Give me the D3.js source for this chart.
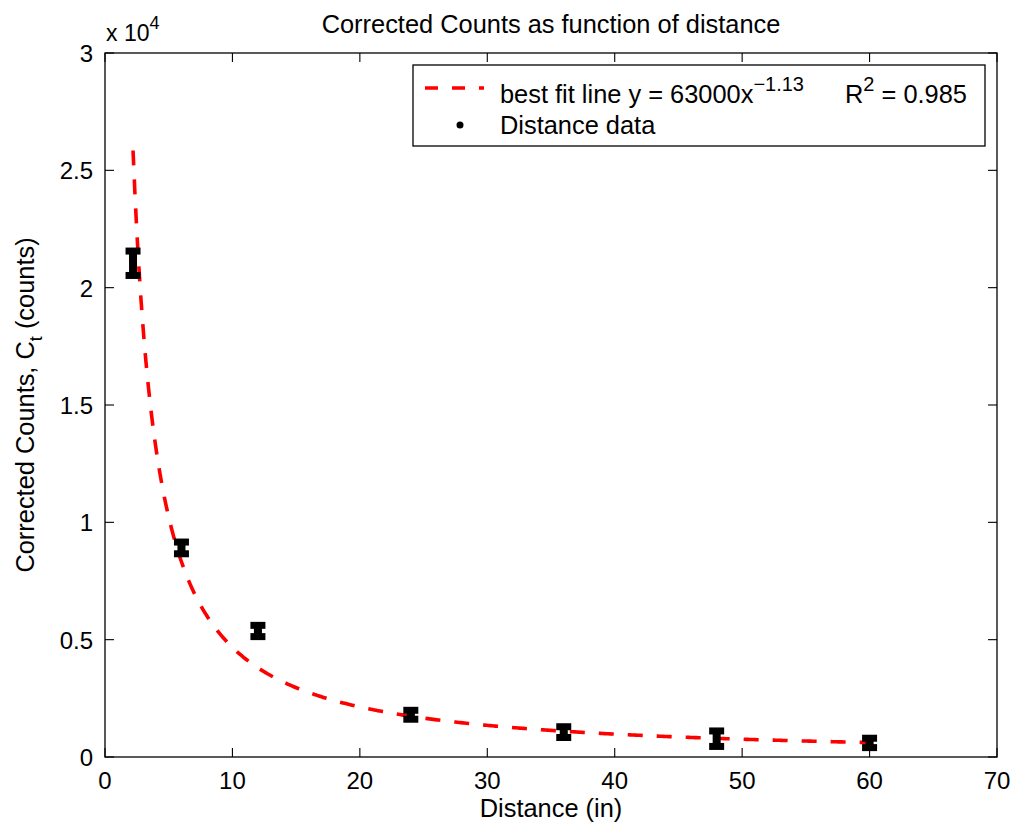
<!DOCTYPE html>
<html>
<head>
<meta charset="utf-8">
<script src="https://cdn.jsdelivr.net/npm/d3@7"></script>
<style>
  body { margin: 0; background: #fff; }
  text { font-family: "Liberation Sans", Arial, Helvetica, sans-serif; fill: #000; }
</style>
</head>
<body>
<svg id="chart" width="1016" height="826"></svg>
<script>
// Measured source-to-detector distances (in) and corrected counts
const distance = [2.2, 6, 12, 24, 36, 48, 60];
const counts = [21040, 8910, 5370, 1800, 1060, 780, 600];
const countErr = [520, 250, 240, 190, 230, 330, 200];

// Power-law fit y = A x^B
const fitA = 63000;
const fitB = -1.13;

const xTicks = [0, 10, 20, 30, 40, 50, 60, 70];
const yTicks = [0, 5000, 10000, 15000, 20000, 25000, 30000];
const yTickLabels = ["0", "0.5", "1", "1.5", "2", "2.5", "3"];

const svg = d3.select("#chart");
const plotLeft = 105, plotRight = 997, plotTop = 53, plotBottom = 757;
const labelSize = 25.4, tickSize = 24, supSize = 18;

const x = d3.scaleLinear().domain([0, 70]).range([plotLeft, plotRight]);
const y = d3.scaleLinear().domain([0, 30000]).range([plotBottom, plotTop]);

// Axes box
svg.append("rect")
  .attr("x", plotLeft).attr("y", plotTop)
  .attr("width", plotRight - plotLeft).attr("height", plotBottom - plotTop)
  .attr("fill", "#fff").attr("stroke", "#000").attr("stroke-width", 1.3);

const tickLen = 9;
// Inward ticks on all four sides
const g = svg.append("g").attr("stroke", "#000").attr("stroke-width", 1.1);
xTicks.forEach(t => {
  g.append("line").attr("x1", x(t)).attr("x2", x(t)).attr("y1", plotBottom).attr("y2", plotBottom - tickLen);
  g.append("line").attr("x1", x(t)).attr("x2", x(t)).attr("y1", plotTop).attr("y2", plotTop + tickLen);
});
yTicks.forEach(t => {
  g.append("line").attr("x1", plotLeft).attr("x2", plotLeft + tickLen).attr("y1", y(t)).attr("y2", y(t));
  g.append("line").attr("x1", plotRight).attr("x2", plotRight - tickLen).attr("y1", y(t)).attr("y2", y(t));
});

// Tick labels
svg.append("g").selectAll("text").data(xTicks).join("text")
  .attr("x", d => x(d)).attr("y", plotBottom + 32)
  .attr("text-anchor", "middle").attr("font-size", tickSize)
  .text(d => d);
svg.append("g").selectAll("text").data(yTicks).join("text")
  .attr("x", plotLeft - 12).attr("y", d => y(d) + 9)
  .attr("text-anchor", "end").attr("font-size", tickSize)
  .text((d, i) => yTickLabels[i]);

// Exponent label
const expo = svg.append("text").attr("x", plotLeft + 1).attr("y", plotTop - 12).attr("font-size", 23);
expo.append("tspan").text("x 10");
expo.append("tspan").attr("dy", -12).attr("font-size", supSize).text("4");

// Title and axis labels
svg.append("text").attr("x", (plotLeft + plotRight) / 2).attr("y", 33)
  .attr("text-anchor", "middle").attr("font-size", labelSize)
  .text("Corrected Counts as function of distance");
svg.append("text").attr("x", (plotLeft + plotRight) / 2).attr("y", 817)
  .attr("text-anchor", "middle").attr("font-size", labelSize)
  .text("Distance (in)");
const yl = svg.append("text")
  .attr("transform", `translate(34,${(plotTop + plotBottom) / 2}) rotate(-90)`)
  .attr("text-anchor", "middle").attr("font-size", labelSize);
yl.append("tspan").text("Corrected Counts, C");
yl.append("tspan").attr("dy", 8).attr("font-size", supSize).text("t");
yl.append("tspan").attr("dy", -8).text(" (counts)");

// Fit curve
const fitXs = d3.range(0, 401).map(i => distance[0] + (distance[distance.length - 1] - distance[0]) * i / 400);
const line = d3.line().x(d => x(d)).y(d => y(fitA * Math.pow(d, fitB)));
svg.append("path").datum(fitXs)
  .attr("d", line)
  .attr("fill", "none").attr("stroke", "#ff0000")
  .attr("stroke-width", 3.6).attr("stroke-dasharray", "15,14");

// Error bars with data markers
const pts = svg.append("g");
distance.forEach((d, i) => {
  const cx = x(d), hi = y(counts[i] + countErr[i]), lo = y(counts[i] - countErr[i]);
  pts.append("line").attr("x1", cx).attr("x2", cx).attr("y1", hi).attr("y2", lo)
    .attr("stroke", "#000").attr("stroke-width", 8);
  [hi, lo].forEach(v => {
    pts.append("line").attr("x1", cx - 7.5).attr("x2", cx + 7.5).attr("y1", v).attr("y2", v)
      .attr("stroke", "#000").attr("stroke-width", 7);
  });
  pts.append("circle").attr("cx", cx).attr("cy", y(counts[i])).attr("r", 3.5).attr("fill", "#000");
});

// Legend
const lg = svg.append("g");
lg.append("rect").attr("x", 413).attr("y", 65).attr("width", 572).attr("height", 81)
  .attr("fill", "#fff").attr("stroke", "#000").attr("stroke-width", 1.3);
lg.append("line").attr("x1", 425).attr("x2", 484).attr("y1", 88).attr("y2", 88)
  .attr("stroke", "#ff0000").attr("stroke-width", 3.6).attr("stroke-dasharray", "13,14");
lg.append("circle").attr("cx", 460).attr("cy", 125).attr("r", 3.5).attr("fill", "#000");
const l1 = lg.append("text").attr("x", 500).attr("y", 103).attr("font-size", labelSize);
l1.append("tspan").text("best fit line y = 63000x");
l1.append("tspan").attr("dy", -12).attr("font-size", 20).text("\u22121.13");
l1.append("tspan").attr("dy", 12).attr("x", 845).text("R");
l1.append("tspan").attr("dy", -12).attr("font-size", 20).text("2");
l1.append("tspan").attr("dy", 12).text(" = 0.985");
lg.append("text").attr("x", 500).attr("y", 134).attr("font-size", labelSize).text("Distance data");
</script>
</body>
</html>
